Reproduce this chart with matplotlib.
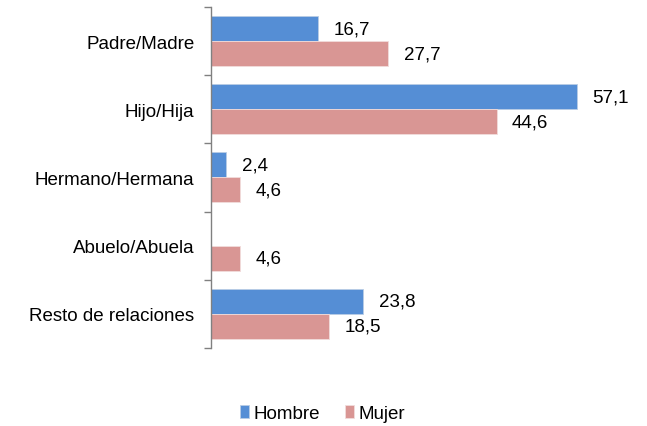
import numpy as np
import matplotlib.pyplot as plt

plt.rcParams['font.family'] = ['Liberation Sans', 'DejaVu Sans']

# Datos
categorias = ['Padre/Madre', 'Hijo/Hija', 'Hermano/Hermana', 'Abuelo/Abuela', 'Resto de relaciones']
hombre = [16.7, 57.1, 2.4, 0.0, 23.8]
mujer = [27.7, 44.6, 4.6, 4.6, 18.5]

azul = '#558ED5'
rosa = '#D99694'
fs = 13.5

fig = plt.figure(figsize=(6.47, 4.27), dpi=100)
ax = fig.add_axes([0.326, 0.183, 0.594, 0.798])

y = np.arange(len(categorias))
h = 0.367
ax.barh(y - h / 2, hombre, height=h, color=azul, edgecolor='#B9CDE5', linewidth=0.6, label='Hombre')
ax.barh(y + h / 2, mujer, height=h, color=rosa, edgecolor='#F2DCDB', linewidth=0.6, label='Mujer')

# Etiquetas de valores
for i in range(len(categorias)):
    if hombre[i] > 0:
        ax.annotate(f'{hombre[i]:.1f}'.replace('.', ','), (hombre[i], y[i] - h / 2),
                    xytext=(11, 0), textcoords='offset points', va='center', ha='left', fontsize=fs)
    if mujer[i] > 0:
        ax.annotate(f'{mujer[i]:.1f}'.replace('.', ','), (mujer[i], y[i] + h / 2),
                    xytext=(11, 0), textcoords='offset points', va='center', ha='left', fontsize=fs)

ax.set_xlim(0, 60)
ax.set_ylim(len(categorias) - 0.5, -0.5)
ax.set_yticks(y)
ax.set_yticklabels(categorias, fontsize=fs)
ax.set_yticks(np.arange(-0.5, len(categorias)), minor=True)
ax.tick_params(axis='y', which='major', length=0, pad=12)
ax.tick_params(axis='y', which='minor', length=5, color='#808080', width=1)
ax.set_xticks([])

for s in ['top', 'right', 'bottom']:
    ax.spines[s].set_visible(False)
ax.spines['left'].set_color('#808080')
ax.spines['left'].set_linewidth(1)

fig.legend(loc='center', bbox_to_anchor=(0.4985, 0.029), ncol=2, frameon=False, fontsize=fs,
           handlelength=0.48, handleheight=0.7, handletextpad=0.25, columnspacing=1.35)

fig.savefig('out.png', dpi=100)
